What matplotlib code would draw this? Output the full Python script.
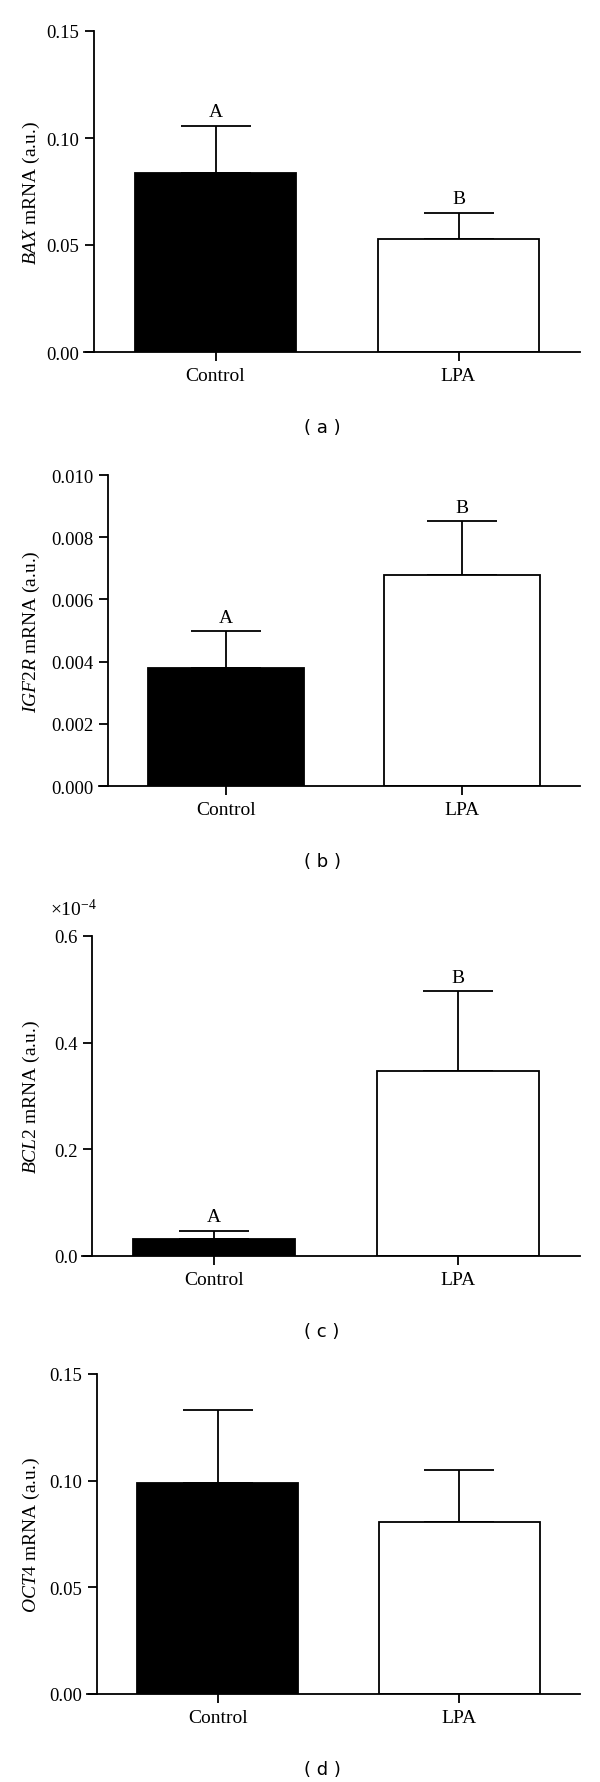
import numpy as np
import matplotlib
matplotlib.use("Agg")
import matplotlib.pyplot as plt

plt.rcParams['font.family'] = ['Liberation Serif', 'DejaVu Serif']
plt.rcParams['mathtext.fontset'] = 'custom'
plt.rcParams['mathtext.rm'] = 'Liberation Serif'
plt.rcParams['mathtext.it'] = 'Liberation Serif:italic'

groups = ['Control', 'LPA']

# mean and upper error-bar length for each gene
bax = [0.0835, 0.053]
bax_err = [0.0223, 0.012]
igf2r = [0.00378, 0.00677]
igf2r_err = [0.0012, 0.00174]
bcl2 = [0.0315, 0.3475]        # x 10^-4
bcl2_err = [0.016, 0.149]
oct4 = [0.0989, 0.0806]
oct4_err = [0.0341, 0.0242]

letters_abc = ['A', 'B']

panels = [
    dict(vals=bax, err=bax_err, gene='BAX', ymax=0.15,
         ticks=[0.0, 0.05, 0.10, 0.15], fmt='{:.2f}', letters=letters_abc,
         tag='( a )', box=(94, 32, 353)),
    dict(vals=igf2r, err=igf2r_err, gene='IGF2R', ymax=0.010,
         ticks=[0.0, 0.002, 0.004, 0.006, 0.008, 0.010], fmt='{:.3f}', letters=letters_abc,
         tag='( b )', box=(108, 476, 787)),
    dict(vals=bcl2, err=bcl2_err, gene='BCL2', ymax=0.6,
         ticks=[0.0, 0.2, 0.4, 0.6], fmt='{:.1f}', letters=letters_abc,
         tag='( c )', box=(92, 937, 1257)),
    dict(vals=oct4, err=oct4_err, gene='OCT4', ymax=0.15,
         ticks=[0.0, 0.05, 0.10, 0.15], fmt='{:.2f}', letters=None,
         tag='( d )', box=(97, 1375, 1695)),
]

W, H = 600, 1783
fig = plt.figure(figsize=(W / 100, H / 100), dpi=100)

x = np.arange(len(groups))
right_px = 580
for p in panels:
    spine, top, bottom = p['box']
    ppu = (right_px - spine) / 2.0
    left = spine - 0.04 * ppu
    ax = fig.add_axes([left / W, 1 - bottom / H, (right_px - left) / W, (bottom - top) / H])
    ax.bar(x, p['vals'], width=0.665, color=['black', 'white'], edgecolor='black',
           linewidth=1.3, zorder=2)
    ax.errorbar(x, p['vals'], yerr=[[0, 0], p['err']], fmt='none', ecolor='black',
                elinewidth=1.3, capsize=25, capthick=1.3, zorder=1)
    if p['letters']:
        for xi, v, e, lt in zip(x, p['vals'], p['err'], p['letters']):
            ax.annotate(lt, (xi, v + e), xytext=(0, 4), textcoords='offset points',
                        ha='center', va='bottom', fontsize=14)
    ax.set_xlim(-0.54, 1.5)
    ax.set_ylim(0, p['ymax'])
    ax.spines['left'].set_position(('data', -0.5))
    ax.spines['right'].set_visible(False)
    ax.spines['top'].set_visible(False)
    for s in ['left', 'bottom']:
        ax.spines[s].set_linewidth(1.3)
    ax.set_xticks(x)
    ax.set_xticklabels(groups, fontsize=14)
    ax.set_yticks(p['ticks'])
    ax.set_yticklabels([p['fmt'].format(t) for t in p['ticks']], fontsize=13.5)
    ax.tick_params(direction='out', length=6.5, width=1.3, pad=4)
    fig.text(31 / W, 1 - (top + bottom) / 2 / H, r'$\mathit{' + p['gene'] + '}$ mRNA (a.u.)',
             rotation=90, ha='center', va='center', fontsize=14)
    fig.text(322 / W, 1 - (bottom + 75) / H, p['tag'], ha='center', va='center',
             fontsize=13, family='DejaVu Sans')

fig.text(50 / W, 1 - 910 / H, r'$\times10^{-4}$', ha='left', va='center', fontsize=14)

fig.savefig('out.png', dpi=100)
